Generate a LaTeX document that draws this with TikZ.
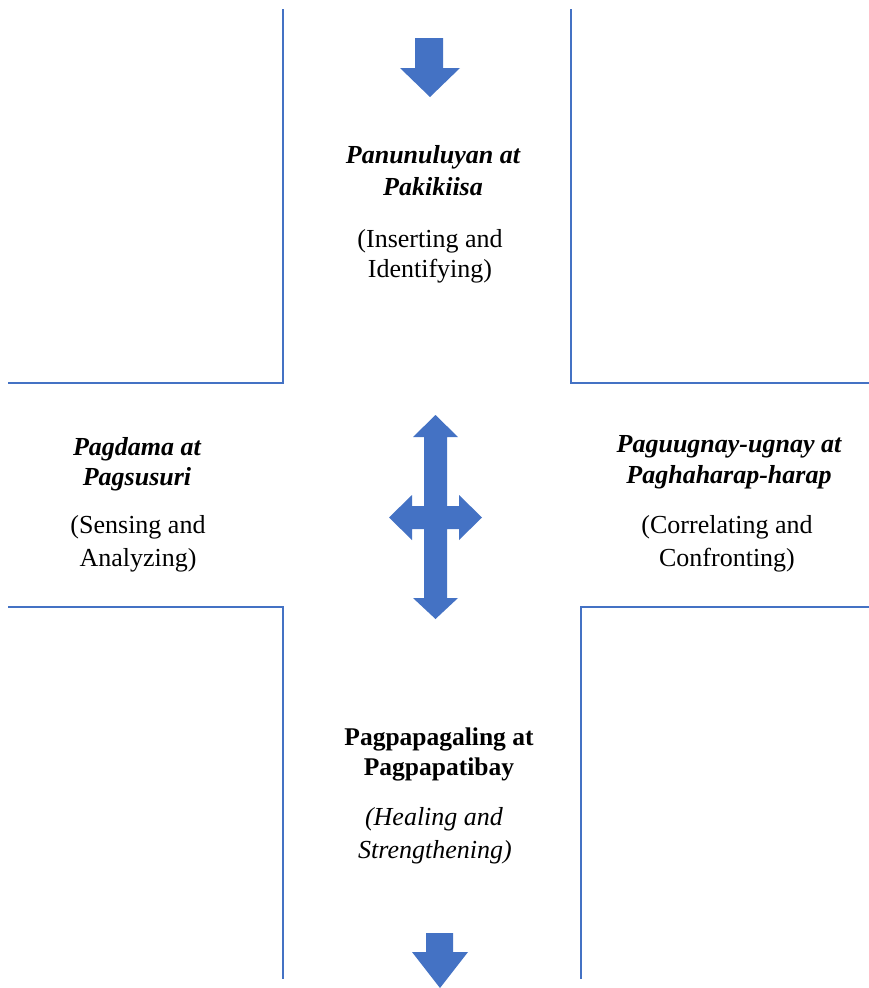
\documentclass[tikz,border=0pt]{standalone}
\usepackage{fontspec}
\setmainfont{Liberation Serif}
\definecolor{officeblue}{HTML}{4472C4}
\begin{document}
\begin{tikzpicture}[x=1pt,y=-1pt,
  frameline/.style={draw=officeblue,line width=1.6pt},
  arrowshape/.style={fill=officeblue,draw=none},
  headtext/.style={font=\fontsize{26}{31}\selectfont\bfseries\itshape,anchor=base,inner sep=0pt},
  headtextup/.style={font=\fontsize{25.5}{31}\selectfont\bfseries,anchor=base,inner sep=0pt},
  subtext/.style={font=\fontsize{26}{31}\selectfont,anchor=base,inner sep=0pt},
  subtextit/.style={font=\fontsize{26}{31}\selectfont\itshape,anchor=base,inner sep=0pt}]
\useasboundingbox[fill=white] (0,0) rectangle (869,988);
\clip (0,0) rectangle (869,988);
% frame lines
\draw[frameline] (283,9) -- (283,383) -- (8,383);
\draw[frameline] (571,9) -- (571,383) -- (869,383);
\draw[frameline] (8,607) -- (283,607) -- (283,979);
\draw[frameline] (869,607) -- (581,607) -- (581,979);
% top arrow
\fill[arrowshape] (415,38) -- (443,38) -- (443,68) -- (460,68) -- (430,97) -- (400,68) -- (415,68) -- cycle;
% cross arrow
\fill[arrowshape] (435.5,415) -- (458,437) -- (447,437) -- (447,506) -- (459,506) -- (459,495)
  -- (482,517.5) -- (459,540) -- (459,529) -- (447,529) -- (447,598) -- (458,598)
  -- (435.5,619) -- (413,598) -- (424,598) -- (424,529) -- (412,529) -- (412,540)
  -- (389,517.5) -- (412,495) -- (412,506) -- (424,506) -- (424,437) -- (413,437) -- cycle;
% bottom arrow
\fill[arrowshape] (426,933) -- (453,933) -- (453,952) -- (468,952) -- (440,988) -- (412,952) -- (426,952) -- cycle;
% top texts
\node[headtext] (t1) at (433,163) {Panunuluyan at};
\node[headtext] (t2) at (433,195) {Pakikiisa};
\node[subtext] (t3) at (430,247) {(Inserting and};
\node[subtext] (t4) at (430,277) {Identifying)};
% left texts
\node[headtext] (l1) at (137,455) {Pagdama at};
\node[headtext] (l2) at (137,485) {Pagsusuri};
\node[subtext] (l3) at (138,533) {(Sensing and};
\node[subtext] (l4) at (138,566) {Analyzing)};
% right texts
\node[headtext] (r1) at (729,452) {Paguugnay-ugnay at};
\node[headtext] (r2) at (729,483) {Paghaharap-harap};
\node[subtext] (r3) at (727,533) {(Correlating and};
\node[subtext] (r4) at (727,566) {Confronting)};
% bottom texts
\node[headtextup] (b1) at (439,745) {Pagpapagaling at};
\node[headtextup] (b2) at (439,775) {Pagpapatibay};
\node[subtextit] (b3) at (434,825) {(Healing and};
\node[subtextit] (b4) at (435,858) {Strengthening)};
\end{tikzpicture}
\end{document}
